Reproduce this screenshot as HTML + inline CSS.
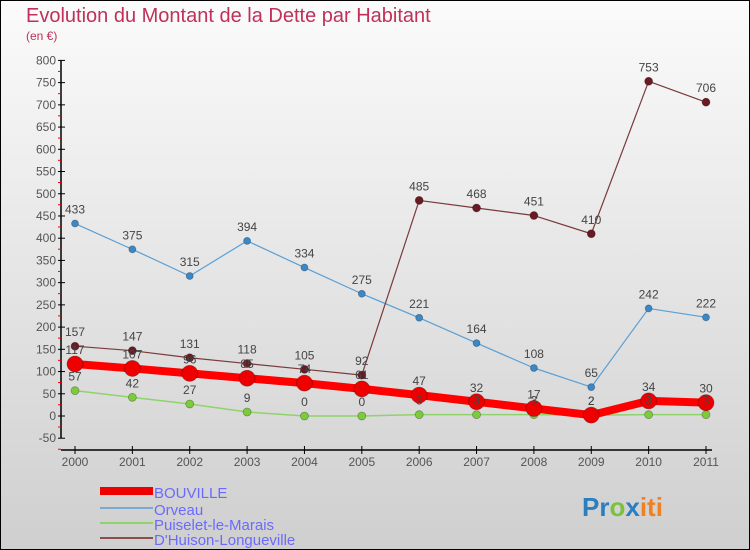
<!DOCTYPE html>
<html><head><meta charset="utf-8"><style>
body{margin:0;width:750px;height:550px;overflow:hidden;font-family:"Liberation Sans",sans-serif}
svg{display:block}
</style></head><body>
<svg id="chart" width="750" height="550" xmlns="http://www.w3.org/2000/svg">
<defs><linearGradient id="bg" x1="0" y1="0" x2="0" y2="1"><stop offset="0" stop-color="#fbfbfb"/><stop offset="1" stop-color="#cfcfcf"/></linearGradient></defs>
<rect x="0.5" y="0.5" width="749" height="549" fill="url(#bg)" stroke="#000"/>
<text x="26" y="22" font-size="20" fill="#c0305a">Evolution du Montant de la Dette par Habitant</text>
<text x="26" y="40" font-size="12" fill="#c0305a">(en €)</text>
<g id="axes"></g><g id="series"></g><g id="labels"></g>
<g font-size="15" fill="#6a6aff">
<rect x="100" y="487" width="53" height="8" fill="#e00"/>
<text x="154" y="498">BOUVILLE</text>
<line x1="100" y1="508" x2="153" y2="508" stroke="#7aaad0" stroke-width="2"/>
<text x="154" y="515">Orveau</text>
<line x1="100" y1="523" x2="153" y2="523" stroke="#8ed46a" stroke-width="2"/>
<text x="154" y="530">Puiselet-le-Marais</text>
<line x1="100" y1="538" x2="153" y2="538" stroke="#8a5050" stroke-width="2"/>
<text x="154" y="545">D'Huison-Longueville</text>
</g>
<text x="582" y="516" font-size="26" font-weight="bold"><tspan fill="#2a7fc0">Pr</tspan><tspan fill="#7cc040">o</tspan><tspan fill="#2a7fc0">x</tspan><tspan fill="#f08020">iti</tspan></text>
</svg>
<script>
const years=[2000,2001,2002,2003,2004,2005,2006,2007,2008,2009,2010,2011];
const yTicks=[-50,0,50,100,150,200,250,300,350,400,450,500,550,600,650,700,750,800];
const bouville=[117,107,96,85,74,61,47,32,17,2,34,30];
const orveau=[433,375,315,394,334,275,221,164,108,65,242,222];
const puiselet=[57,42,27,9,0,0,3,3,3,2,3,3];
const dhuison=[157,147,131,118,105,92,485,468,451,410,753,706];
const NS="http://www.w3.org/2000/svg";
const xS=i=>75+i*(706-75)/(years.length-1);
const yS=v=>416-v*0.4445;
function mk(t,a,p){const e=document.createElementNS(NS,t);for(const k in a)e.setAttribute(k,a[k]);p.appendChild(e);return e;}
const ax=document.getElementById('axes');
let e=mk('line',{x1:61,y1:yS(800),x2:61,y2:yS(-50),stroke:'#000','stroke-width':1.5},ax);


e=mk('line',{x1:61,y1:450,x2:712,y2:450,stroke:'#000','stroke-width':1.5},ax);


yTicks.forEach(v=>{
 mk('line',{x1:58,y1:yS(v),x2:65,y2:yS(v),stroke:'#000'},ax);
 mk('line',{x1:58,y1:yS(v)+11,x2:61,y2:yS(v)+11,stroke:'#e00'},ax);
 const t=mk('text',{x:56,y:yS(v)+4,'font-size':12,fill:'#555','text-anchor':'end'},ax);
 t.textContent=v;
 
 
});
years.forEach((y,i)=>{
 mk('line',{x1:xS(i),y1:446,x2:xS(i),y2:454,stroke:'#000'},ax);
 const t=mk('text',{x:xS(i),y:466,'font-size':12,fill:'#555','text-anchor':'middle'},ax);
 t.textContent=y;
 
 
});
const sg=document.getElementById('series'),lg=document.getElementById('labels');
function series(data,name,color,lw,r,fill){
 const pl=mk('polyline',{points:data.map((v,i)=>xS(i)+','+yS(v)).join(' '),fill:'none',stroke:color,'stroke-width':lw,'stroke-linejoin':'round'},sg);
 
 
 data.forEach((v,i)=>{
  const c=mk('circle',{cx:xS(i),cy:yS(v),r:r,fill:fill,stroke:'rgba(0,0,0,0.3)','stroke-width':0.8},sg);
  
  
  const t=mk('text',{x:xS(i),y:yS(v)-10,'font-size':12,fill:'#444','text-anchor':'middle'},lg);
  t.textContent=v;
  
  
 });
}
series(puiselet,'puiselet','#8ed46a',1.5,4,'#7ccc3a');
series(orveau,'orveau','#5a9fd4',1.2,3.5,'#3a88c8');
series(dhuison,'dhuison','#7a3a3a',1.2,4,'#6a1a22');
series(bouville,'bouville','#f00',8,8,'#e00');
</script>
</body></html>
